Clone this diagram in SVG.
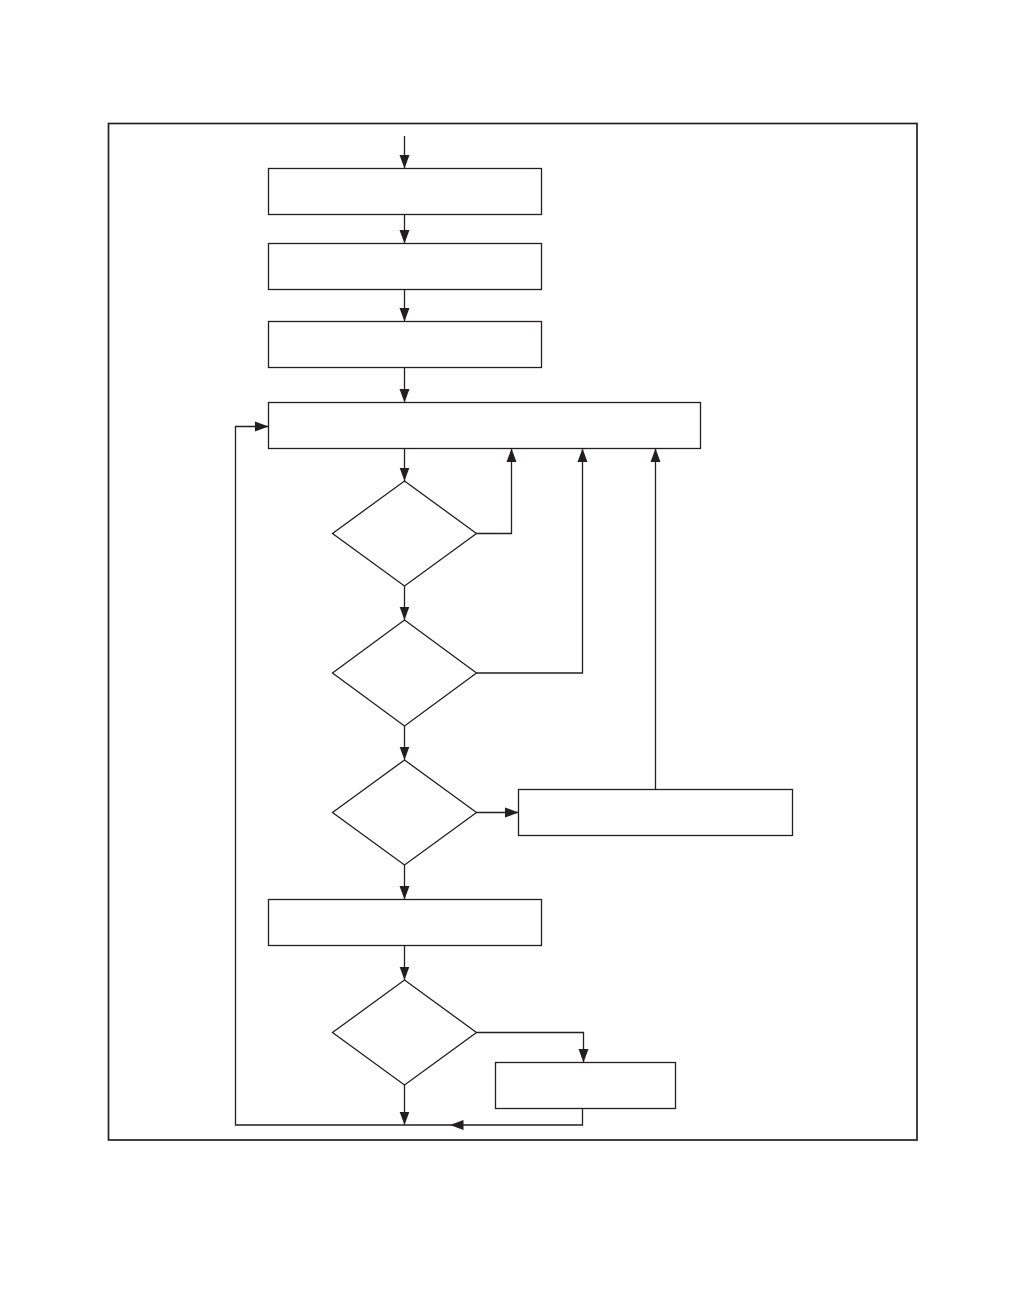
<svg xmlns="http://www.w3.org/2000/svg" width="1009" height="1297" viewBox="0 0 1009 1297">
<style>
.n{fill:#fff;stroke:#231f20;stroke-width:1.3}
.c{fill:none;stroke:#231f20;stroke-width:1.3}
</style>
<defs>
<marker id="ah" markerUnits="userSpaceOnUse" markerWidth="14" markerHeight="11" refX="13.5" refY="5.5" orient="auto">
<path d="M0,0.5 L13.5,5.5 L0,10.5 Z" fill="#231f20"/>
</marker>
</defs>
<rect x="0" y="0" width="1009" height="1297" fill="#fff"/>
<rect id="frame" x="108.5" y="123.5" width="808.5" height="1016.5" fill="none" stroke="#231f20" stroke-width="1.7"/>
<g id="box1"><rect class="n" x="268.5" y="168.5" width="273" height="46"/></g>
<g id="box2"><rect class="n" x="268.5" y="243.5" width="273" height="46"/></g>
<g id="box3"><rect class="n" x="268.5" y="321.5" width="273" height="46"/></g>
<g id="box4"><rect class="n" x="268.5" y="402.5" width="432" height="46"/></g>
<g id="dec1"><polygon class="n" points="404.5,481 476.5,533.5 404.5,586 332.5,533.5"/></g>
<g id="dec2"><polygon class="n" points="404.5,620 476.5,673 404.5,726 332.5,673"/></g>
<g id="dec3"><polygon class="n" points="404.5,760 476.5,812.5 404.5,865 332.5,812.5"/></g>
<g id="box5"><rect class="n" x="518.5" y="789.5" width="274" height="46"/></g>
<g id="box6"><rect class="n" x="268.5" y="899.5" width="273" height="46"/></g>
<g id="dec4"><polygon class="n" points="404.5,980 476.5,1032.5 404.5,1085 332.5,1032.5"/></g>
<g id="box7"><rect class="n" x="495.5" y="1062.5" width="180" height="46"/></g>
<g id="connectors">
<path class="c" d="M404.5,136 V168.5" marker-end="url(#ah)"/>
<path class="c" d="M404.5,214.5 V243.5" marker-end="url(#ah)"/>
<path class="c" d="M404.5,289.5 V321.5" marker-end="url(#ah)"/>
<path class="c" d="M404.5,367.5 V402.5" marker-end="url(#ah)"/>
<path class="c" d="M404.5,448.5 V481" marker-end="url(#ah)"/>
<path class="c" d="M476.5,533.5 H511.5 V448.5" marker-end="url(#ah)"/>
<path class="c" d="M404.5,586 V620" marker-end="url(#ah)"/>
<path class="c" d="M476.5,673 H582.5 V448.5" marker-end="url(#ah)"/>
<path class="c" d="M404.5,726 V760" marker-end="url(#ah)"/>
<path class="c" d="M476.5,812.5 H518.5" marker-end="url(#ah)"/>
<path class="c" d="M655.5,789.5 V448.5" marker-end="url(#ah)"/>
<path class="c" d="M404.5,865 V899.5" marker-end="url(#ah)"/>
<path class="c" d="M404.5,945.5 V980" marker-end="url(#ah)"/>
<path class="c" d="M476.5,1032.5 H583.5 V1062.5" marker-end="url(#ah)"/>
<path class="c" d="M404.5,1085 V1125" marker-end="url(#ah)"/>
<path class="c" d="M582.5,1108.5 V1125 H450" marker-end="url(#ah)"/>
<path class="c" d="M450,1125 H235.5 V426.5 H268.5" marker-end="url(#ah)"/>
</g>
</svg>
